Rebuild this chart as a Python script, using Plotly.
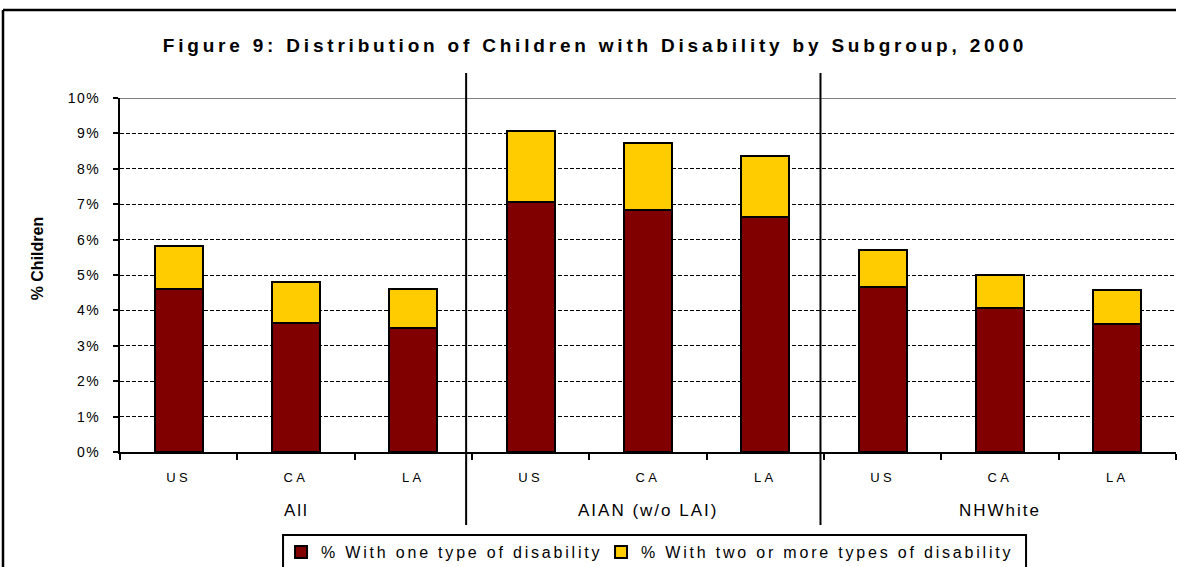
import plotly.graph_objects as go

# Subgroups and areas (x positions 0..8)
groups = ["All", "AIAN (w/o LAI)", "NHWhite"]
areas = ["US", "CA", "LA", "US", "CA", "LA", "US", "CA", "LA"]

# Percent of children, stacked
one_type = [4.61, 3.65, 3.49, 7.07, 6.85, 6.63, 4.66, 4.08, 3.62]
two_plus = [1.20, 1.14, 1.12, 2.00, 1.89, 1.72, 1.05, 0.93, 0.97]

y_ticks = [0, 1, 2, 3, 4, 5, 6, 7, 8, 9, 10]
y_tick_text = [f"{v}%" for v in y_ticks]

FONT = "Liberation Sans, Arial, sans-serif"
xpos = list(range(len(areas)))

fig = go.Figure()
fig.add_trace(go.Bar(
    x=xpos, y=one_type, name="% With one type of disability",
    marker=dict(color="#800000", line=dict(color="black", width=2)),
    width=0.41, legendwidth=275,
))
fig.add_trace(go.Bar(
    x=xpos, y=two_plus, name="% With two or more types of disability",
    marker=dict(color="#FFCC00", line=dict(color="black", width=2)),
    width=0.41, legendwidth=385,
))

shapes = [
    # outer frame of the figure (left and top edges)
    dict(type="line", xref="paper", yref="paper", x0=-0.1108, x1=1.0,
         y0=1.2486, y1=1.2486, line=dict(color="black", width=2.5)),
    dict(type="line", xref="paper", yref="paper", x0=-0.1108, x1=-0.1108,
         y0=-0.34, y1=1.2486, line=dict(color="black", width=2.5)),
    # solid top edge of the plot area
    dict(type="line", xref="paper", yref="y", x0=0, x1=1, y0=10, y1=10,
         line=dict(color="#808080", width=2)),
    # legend frame
    dict(type="rect", xref="paper", yref="paper", x0=0.1544, x1=0.858,
         y0=-0.34, y1=-0.2345, line=dict(color="black", width=2),
         fillcolor="white", layer="below"),
]
# vertical dividers between subgroups
for xd in (2.45, 5.47):
    shapes.append(dict(type="line", xref="x", yref="paper", x0=xd, x1=xd,
                       y0=-0.206, y1=1.0706, line=dict(color="black", width=2)))

annotations = [
    dict(text="<b>Figure 9: Distribution of Children with Disability by Subgroup, 2000</b>",
         xref="paper", yref="paper", x=0.4498, y=1.149, xanchor="center", yanchor="middle",
         showarrow=False, font=dict(family=FONT, size=19, color="black")),
    dict(text="<b>% Children</b>", xref="paper", yref="paper",
         x=-0.0786, y=0.547, textangle=-90, showarrow=False,
         xanchor="center", yanchor="middle",
         font=dict(family=FONT, size=16, color="black")),
]
for i, g in enumerate(groups):
    annotations.append(dict(text=g, xref="x", yref="paper", x=3 * i + 1, y=-0.164,
                            showarrow=False, xanchor="center", yanchor="middle",
                            font=dict(family=FONT, size=17, color="black")))

fig.update_layout(
    width=1177, height=567,
    margin=dict(l=120, r=1, t=98, b=115, autoexpand=False),
    barmode="stack",
    paper_bgcolor="white", plot_bgcolor="white",
    font=dict(family=FONT, color="black"),
    showlegend=True,
    legend=dict(orientation="h", x=0.1525, xanchor="left", y=-0.2345, yanchor="top",
                borderwidth=0, bgcolor="rgba(0,0,0,0)",
                font=dict(family=FONT, size=16, color="black"),
                traceorder="normal", itemwidth=30),
    shapes=shapes,
    annotations=annotations,
    bargap=0.59,
)
fig.update_xaxes(
    range=[-0.5, 8.5], tickmode="array", tickvals=xpos, ticktext=areas,
    ticks="", showgrid=False, zeroline=False,
    showline=True, linecolor="black", linewidth=2,
    tickfont=dict(family=FONT, size=13, color="black"),
    ticklabelstandoff=12,
    minor=dict(tickmode="array", tickvals=[k - 0.5 for k in range(10)],
               ticks="outside", ticklen=6, tickwidth=2, tickcolor="black", showgrid=False),
)
fig.update_yaxes(
    range=[0, 10], tickmode="array", tickvals=y_ticks, ticktext=y_tick_text,
    ticks="outside", ticklen=5, tickwidth=2, tickcolor="black",
    showline=True, linecolor="black", linewidth=2,
    showgrid=True, gridcolor="black", gridwidth=1, griddash="4px,2px",
    zeroline=False,
    tickfont=dict(family=FONT, size=14, color="black"),
    ticklabelstandoff=10,
)

# Spaced-out lettering for the title, tick labels, subgroup labels and legend
post_js = """
var gd = document.getElementById('{plot_id}');
function spaceText() {
  var set = function (sel, v) {
    gd.querySelectorAll(sel).forEach(function (t) { t.style.letterSpacing = v; });
  };
  set('.annotation[data-index="0"] text', '3.8px');
  set('.xtick text', '3.5px');
  set('.ytick text', '1.5px');
  set('.legendtext', '2.8px');
  [2, 3, 4].forEach(function (i) {
    set('.annotation[data-index="' + i + '"] text', '2px');
  });
}
spaceText();
gd.on('plotly_afterplot', spaceText);
"""

fig.write_html("out.html", post_script=post_js)
